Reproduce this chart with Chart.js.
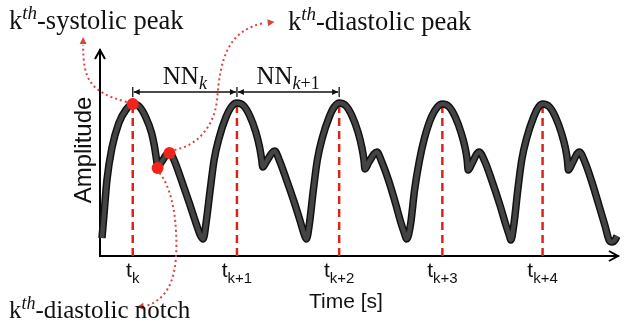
<!DOCTYPE html>
<html>
<head>
<meta charset="utf-8">
<script src="https://cdn.jsdelivr.net/npm/chart.js@4.4.1/dist/chart.umd.min.js"></script>
<style>
html,body{margin:0;padding:0;background:#fff;}
#c{display:block;}
</style>
</head>
<body>
<canvas id="c" width="624" height="325"></canvas>
<script>
// ---- data (time in s, amplitude in a.u.) ----
const timeS = [
  0.69,0.71,0.74,0.79,0.86,0.93,1.00,1.07,1.13,1.19,1.22,1.24,1.25,1.29,1.37,1.42,1.49,1.57,1.64,1.68,1.71,
  1.74,1.78,1.82,1.87,1.94,2.00,2.05,2.12,2.18,2.24,2.28,2.30,2.31,2.35,2.43,2.48,2.55,2.63,2.69,2.73,2.75,
  2.78,2.82,2.86,2.91,2.98,3.03,3.08,3.15,3.21,3.27,3.31,3.33,3.34,3.38,3.46,3.51,3.58,3.65,3.70,3.74,3.76,
  3.80,3.84,3.89,3.94,4.01,4.07,4.12,4.19,4.25,4.31,4.35,4.37,4.38,4.42,4.49,4.55,4.62,4.70,4.76,4.80,4.81,
  4.84,4.88,4.92,4.97,5.04,5.09,5.13,5.20,5.26,5.32,5.36,5.38,5.39,5.43,5.50,5.56,5.63,5.70,5.76,5.80,5.83,5.86,5.88
];
const amplitude = [
  0.09,0.205,0.38,0.54,0.665,0.73,0.76,0.745,0.695,0.615,0.545,0.48,0.445,0.47,0.52,0.475,0.38,0.265,0.16,0.105,0.085,
  0.17,0.33,0.48,0.59,0.695,0.75,0.765,0.75,0.70,0.62,0.54,0.48,0.445,0.475,0.525,0.475,0.38,0.265,0.17,0.105,0.085,
  0.16,0.33,0.48,0.59,0.695,0.745,0.765,0.75,0.70,0.62,0.54,0.48,0.435,0.47,0.52,0.47,0.375,0.26,0.17,0.11,0.085,
  0.16,0.33,0.48,0.59,0.695,0.745,0.76,0.745,0.695,0.615,0.54,0.48,0.43,0.465,0.52,0.47,0.375,0.255,0.155,0.095,0.08,
  0.155,0.33,0.48,0.59,0.695,0.745,0.76,0.745,0.695,0.615,0.54,0.48,0.43,0.465,0.52,0.465,0.365,0.25,0.15,0.08,0.07,0.08,0.10
];
const peakTimes = [1.00, 2.05, 3.08, 4.12, 5.13];
const peakAmp   = [0.76, 0.765, 0.765, 0.76, 0.76];
const tickSubs  = ['k', 'k+1', 'k+2', 'k+3', 'k+4'];
const markerTimes = [1.00, 1.25, 1.37];
const markerAmp   = [0.76, 0.44, 0.515];
const nnLabels = [['NN', 'k', ''], ['NN', 'k', '+1']];
const nnLevel = 0.82;

// ---- build datasets ----
const pulse = timeS.map((t, i) => ({x: t, y: amplitude[i]}));
const markers = markerTimes.map((t, i) => ({x: t, y: markerAmp[i]}));
const datasets = [
  {type:'scatter', label:'markers', data: markers, pointRadius: 6, pointBackgroundColor:'#f2231a', pointBorderWidth:0, order:0, clip:false},
  {label:'pulse', data: pulse, borderColor:'#444444', borderWidth:4.5, pointRadius:0, cubicInterpolationMode:'monotone', order:1, clip:false},
  {label:'pulse edge', data: pulse, borderColor:'#111111', borderWidth:7.5, pointRadius:0, cubicInterpolationMode:'monotone', order:2, clip:false}
];
peakTimes.forEach((t, i) => {
  datasets.push({label:'peak ' + i, data:[{x:t, y:0}, {x:t, y:peakAmp[i]}], borderColor:'#d9261c', borderWidth:2.5,
    borderDash:[8,5], pointRadius:0, order:3, clip:false});
});

const SERIF = '"Liberation Serif", "DejaVu Serif", serif';
const SANS = '"Liberation Sans", Arial, sans-serif';

function drawRuns(ctx, x, y, parts) {
  for (const p of parts) {
    ctx.font = p.font;
    ctx.fillText(p.text, x, y + (p.dy || 0));
    x += ctx.measureText(p.text).width;
  }
  return x;
}
function runsWidth(ctx, parts) {
  let w = 0;
  for (const p of parts) { ctx.font = p.font; w += ctx.measureText(p.text).width; }
  return w;
}
function arrowHead(ctx, tipX, tipY, fromX, fromY, len, half) {
  const a = Math.atan2(tipY - fromY, tipX - fromX);
  ctx.beginPath();
  ctx.moveTo(tipX, tipY);
  ctx.lineTo(tipX - len*Math.cos(a) + half*Math.sin(a), tipY - len*Math.sin(a) - half*Math.cos(a));
  ctx.lineTo(tipX - len*Math.cos(a) - half*Math.sin(a), tipY - len*Math.sin(a) + half*Math.cos(a));
  ctx.closePath();
  ctx.fill();
}

// annotation curves in data units: [start, cp1, cp2, end, (cp1, cp2, end)...], then arrow tip
const callouts = [
  {path: [[0.94,0.77],[0.57,0.82],[0.50,0.88],[0.50,1.055]], tip:[0.50,1.095]},
  {path: [[1.42,0.53],[1.67,0.555],[1.82,0.655],[1.85,0.78],[1.88,0.98],[1.95,1.13],[2.33,1.165]], tip:[2.43,1.17]},
  {path: [[1.27,0.415],[1.37,0.355],[1.44,0.23],[1.44,0.055],[1.44,-0.145],[1.32,-0.22],[1.13,-0.25]], tip:[1.04,-0.255]}
];

const annot = {
  id: 'annot',
  afterDraw(chart) {
    const ctx = chart.ctx;
    const xs = chart.scales.x, ys = chart.scales.y;
    const X = v => xs.getPixelForValue(v), Y = v => ys.getPixelForValue(v);
    const ca = chart.chartArea;
    ctx.save();
    // axis arrows
    ctx.strokeStyle = '#000'; ctx.fillStyle = '#000'; ctx.lineWidth = 2;
    ctx.beginPath();
    ctx.moveTo(ca.left - 5, ca.top + 9); ctx.lineTo(ca.left, ca.top); ctx.lineTo(ca.left + 5, ca.top + 9);
    ctx.moveTo(ca.right - 9, ca.bottom - 5); ctx.lineTo(ca.right, ca.bottom); ctx.lineTo(ca.right - 9, ca.bottom + 5);
    ctx.stroke();

    // dotted callouts
    ctx.strokeStyle = '#d9463f'; ctx.fillStyle = '#d9463f';
    ctx.lineWidth = 2; ctx.setLineDash([2, 3]);
    for (const c of callouts) {
      const p = c.path;
      ctx.beginPath();
      ctx.moveTo(X(p[0][0]), Y(p[0][1]));
      for (let i = 1; i + 2 < p.length; i += 3) {
        ctx.bezierCurveTo(X(p[i][0]), Y(p[i][1]), X(p[i+1][0]), Y(p[i+1][1]), X(p[i+2][0]), Y(p[i+2][1]));
      }
      ctx.stroke();
      const last = p[p.length - 1];
      ctx.setLineDash([]);
      arrowHead(ctx, X(c.tip[0]), Y(c.tip[1]), X(last[0]), Y(last[1]), 7, 3.5);
      ctx.setLineDash([2, 3]);
    }
    ctx.setLineDash([]);

    // NN intervals
    ctx.strokeStyle = '#111'; ctx.fillStyle = '#111'; ctx.lineWidth = 1.3;
    const ny = Y(nnLevel);
    for (let i = 0; i < 2; i++) {
      const x1 = X(peakTimes[i]) + 1, x2 = X(peakTimes[i+1]) - 1;
      ctx.beginPath(); ctx.moveTo(x1, ny); ctx.lineTo(x2, ny); ctx.stroke();
      arrowHead(ctx, x1, ny, x2, ny, 6, 3);
      arrowHead(ctx, x2, ny, x1, ny, 6, 3);
    }
    for (let i = 0; i < 3; i++) {
      const x = X(peakTimes[i]);
      ctx.beginPath(); ctx.moveTo(x, ny - 5); ctx.lineTo(x, ny + 5); ctx.stroke();
    }
    ctx.fillStyle = '#111';
    ctx.textBaseline = 'alphabetic'; ctx.textAlign = 'left';
    for (let i = 0; i < 2; i++) {
      const parts = [
        {text: nnLabels[i][0], font: '25px ' + SERIF},
        {text: nnLabels[i][1], font: 'italic 18px ' + SERIF, dy: 5},
        {text: nnLabels[i][2], font: '18px ' + SERIF, dy: 5}
      ];
      const w = runsWidth(ctx, parts);
      const cx = (X(peakTimes[i]) + X(peakTimes[i+1])) / 2;
      drawRuns(ctx, cx - w / 2, ny - 8, parts);
    }

    // x tick labels t_k
    ctx.fillStyle = '#111';
    for (let i = 0; i < peakTimes.length; i++) {
      const parts = [
        {text: 't', font: '21px ' + SANS},
        {text: tickSubs[i], font: '15px ' + SANS, dy: 6}
      ];
      const w = runsWidth(ctx, parts);
      drawRuns(ctx, X(peakTimes[i]) - w / 2, ca.bottom + 21, parts);
    }
    // axis titles
    ctx.font = '21px ' + SANS; ctx.textAlign = 'center';
    ctx.fillText('Time [s]', 346, 308);
    ctx.save();
    ctx.translate(84, (ca.top + ca.bottom) / 2 - 3);
    ctx.rotate(-Math.PI / 2);
    ctx.font = '24px ' + SANS; ctx.textBaseline = 'middle';
    ctx.fillText('Amplitude', 0, 0);
    ctx.restore();

    // callout labels
    ctx.textAlign = 'left'; ctx.textBaseline = 'alphabetic';
    const lab = (x, y, rest, size) => drawRuns(ctx, x, y, [
      {text: 'k', font: size + 'px ' + SERIF},
      {text: 'th', font: 'italic ' + Math.round(size * 0.7) + 'px ' + SERIF, dy: -Math.round(size * 0.36)},
      {text: rest, font: size + 'px ' + SERIF}
    ]);
    lab(9, 29, '-systolic peak', 26.5);
    lab(288, 30, '-diastolic peak', 26.5);
    lab(9, 318, '-diastolic notch', 25);
    ctx.restore();
  }
};

new Chart(document.getElementById('c').getContext('2d'), {
  type: 'line',
  data: { datasets },
  options: {
    responsive: false,
    animation: false,
    devicePixelRatio: 1,
    layout: { padding: { left: 100, right: 2, top: 50, bottom: 69 } },
    plugins: { legend: { display: false }, tooltip: { enabled: false } },
    scales: {
      x: {
        type: 'linear', min: 0.67, max: 5.89,
        afterBuildTicks: s => { s.ticks = peakTimes.map(v => ({value: v})); },
        ticks: { display: false },
        grid: { display: false, drawTicks: false },
        border: { display: true, color: '#000', width: 2 }
      },
      y: {
        type: 'linear', min: 0, max: 1.03,
        ticks: { display: false },
        grid: { display: false, drawTicks: false },
        border: { display: true, color: '#000', width: 2 }
      }
    }
  },
  plugins: [annot]
});
</script>
</body>
</html>
